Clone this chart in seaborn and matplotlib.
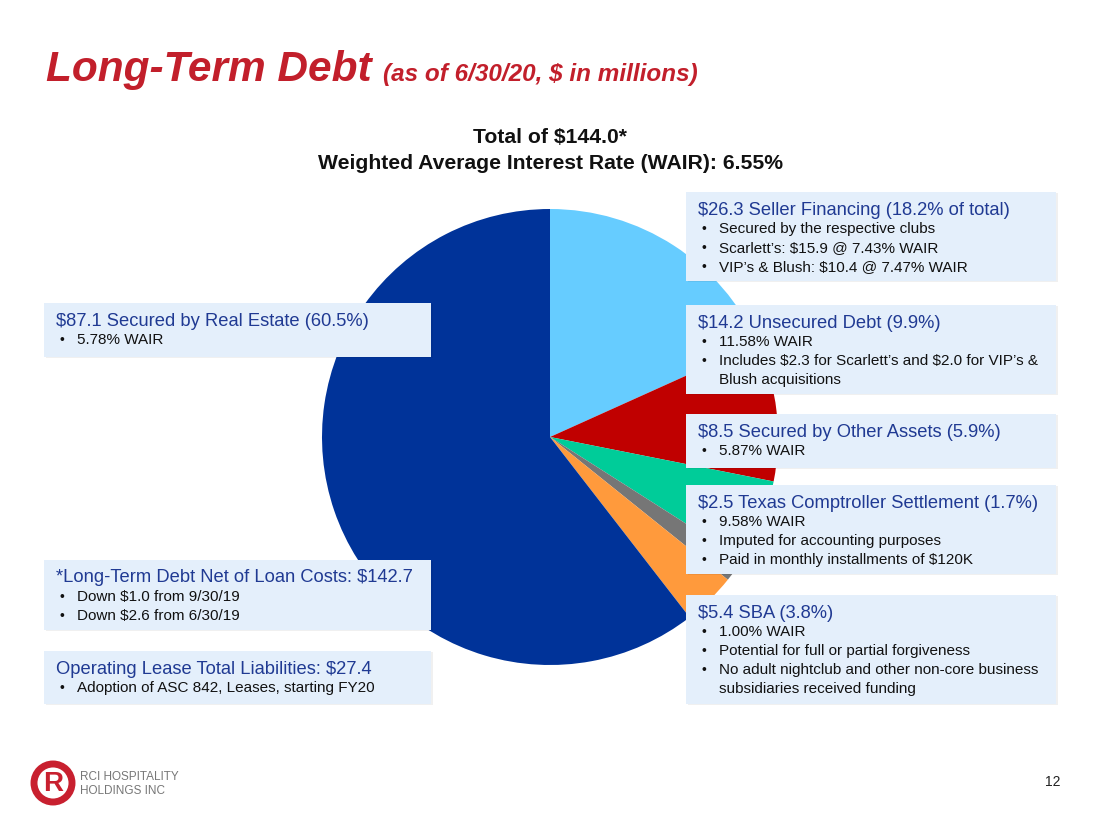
import matplotlib
matplotlib.use("Agg")
import matplotlib.pyplot as plt
import seaborn as sns
from matplotlib.patches import Rectangle, Circle

# Debt components, clockwise from 12 o'clock ($ millions)
segments = ["Seller Financing", "Unsecured Debt", "Secured by Other Assets",
            "Texas Comptroller Settlement", "SBA", "Secured by Real Estate"]
amounts = [26.3, 14.2, 8.5, 2.5, 5.4, 87.1]
seg_colors = ["#66CCFF", "#C00000", "#00CC99", "#767676", "#FF9A3C", "#003399"]

# Callout text
headers = [
    "$26.3 Seller Financing (18.2% of total)",
    "$14.2 Unsecured Debt (9.9%)",
    "$8.5 Secured by Other Assets (5.9%)",
    "$2.5 Texas Comptroller Settlement (1.7%)",
    "$5.4 SBA (3.8%)",
    "$87.1 Secured by Real Estate (60.5%)",
    "*Long-Term Debt Net of Loan Costs: $142.7",
    "Operating Lease Total Liabilities: $27.4",
]
bullets = [
    ["Secured by the respective clubs",
     "Scarlett\u2019s: $15.9 @ 7.43% WAIR",
     "VIP\u2019s & Blush: $10.4 @ 7.47% WAIR"],
    ["11.58% WAIR",
     "Includes $2.3 for Scarlett\u2019s and $2.0 for VIP\u2019s &\nBlush acquisitions"],
    ["5.87% WAIR"],
    ["9.58% WAIR",
     "Imputed for accounting purposes",
     "Paid in monthly installments of $120K"],
    ["1.00% WAIR",
     "Potential for full or partial forgiveness",
     "No adult nightclub and other non-core business\nsubsidiaries received funding"],
    ["5.78% WAIR"],
    ["Down $1.0 from 9/30/19",
     "Down $2.6 from 6/30/19"],
    ["Adoption of ASC 842, Leases, starting FY20"],
]
# box extents in pixels: (left, top, right, bottom)
boxes = [
    (686, 192, 1056, 281),
    (686, 305, 1056, 394),
    (686, 414, 1056, 468),
    (686, 485, 1056, 574),
    (686, 595, 1056, 704),
    (44, 303, 431, 357),
    (44, 560, 431, 630),
    (44, 651, 431, 704),
]

sns.set_theme(style="white")
plt.rcParams["font.family"] = ["Liberation Sans", "DejaVu Sans"]
plt.rcParams["text.parse_math"] = False

W, H = 1098, 824
fig = plt.figure(figsize=(W / 100, H / 100), dpi=100)
fig.patch.set_facecolor("white")

# pie axes: centre (550, 437), radius 228 px
cx, cy, r = 550, 437, 228
ax = fig.add_axes([(cx - r) / W, (H - cy - r) / H, 2 * r / W, 2 * r / H])
ax.pie(amounts, colors=seg_colors, startangle=90, counterclock=False,
       wedgeprops=dict(linewidth=0))
ax.set_xlim(-1, 1)
ax.set_ylim(-1, 1)
ax.set_aspect("equal")
ax.axis("off")

# overlay in pixel coordinates
ov = fig.add_axes([0, 0, 1, 1])
ov.set_xlim(0, W)
ov.set_ylim(H, 0)
ov.axis("off")

red = "#C21F2B"
navy = "#203A93"

ov.text(46, 81, "Long-Term Debt", color=red, fontsize=30.5, fontweight="bold",
        fontstyle="italic", va="baseline")
ov.text(383, 81, "(as of 6/30/20, $ in millions)", color=red, fontsize=17.5,
        fontweight="bold", fontstyle="italic", va="baseline")

ov.text(550, 137, "Total of $144.0*", fontsize=15.2, fontweight="bold",
        ha="center", va="center", color="#111111")
ov.text(550, 163, "Weighted Average Interest Rate (WAIR): 6.55%", fontsize=15.2,
        fontweight="bold", ha="center", va="center", color="#111111")

for (x0, y0, x1, y1), head, items in zip(boxes, headers, bullets):
    ov.add_patch(Rectangle((x0 + 2, y0 + 1), x1 - x0, y1 - y0,
                           facecolor="#000000", alpha=0.06, linewidth=0))
    ov.add_patch(Rectangle((x0, y0), x1 - x0, y1 - y0,
                           facecolor="#E4EFFB", linewidth=0))
    ov.text(x0 + 12, y0 + 18, head, color=navy, fontsize=13.2, va="center")
    ly = y0 + 37
    for item in items:
        for k, line in enumerate(item.split("\n")):
            if k == 0:
                ov.text(x0 + 15, ly, "\u2022", fontsize=10, va="center",
                        color="#111111")
            ov.text(x0 + 33, ly, line, fontsize=11, va="center",
                    color="#111111")
            ly += 19

# logo
ov.add_patch(Circle((53, 783), 19, facecolor="none", edgecolor="#C8202F",
                    linewidth=5))
ov.text(53, 784, "R", color="#C8202F", fontsize=20, fontweight="bold",
        ha="center", va="center")
ov.text(80, 777, "RCI HOSPITALITY", color="#777777", fontsize=8.5,
        va="center")
ov.text(80, 791, "HOLDINGS INC", color="#777777", fontsize=8.5, va="center")

ov.text(1060, 782, "12", fontsize=10, ha="right", va="center",
        color="#222222")

fig.savefig("out.png", dpi=100)
